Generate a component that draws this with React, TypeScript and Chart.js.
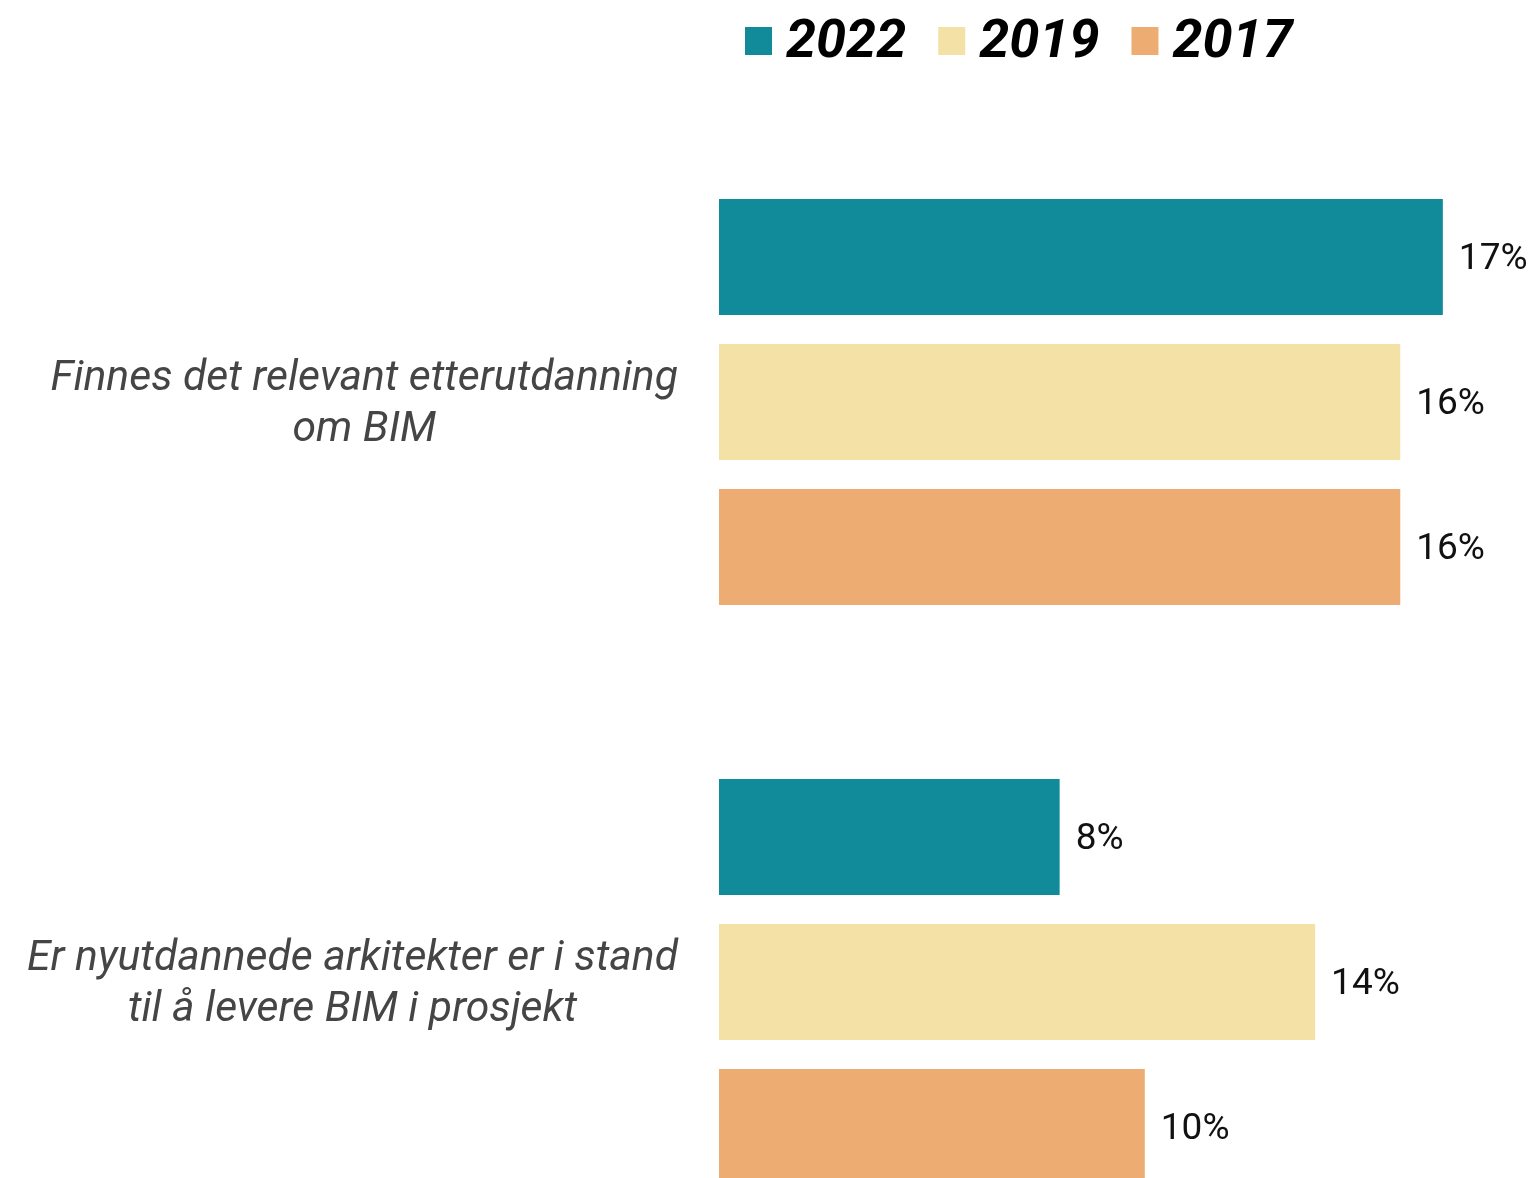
import React, { useEffect, useRef } from "react";
import { Chart, registerables } from "chart.js";

Chart.register(...registerables);

const categories: string[][] = [
  ["Finnes det relevant etterutdanning", "om BIM"],
  ["Er nyutdannede arkitekter er i stand", "til å levere BIM i prosjekt"],
];
const seriesLabels = ["2022", "2019", "2017"];
const values2022 = [17, 8];
const values2019 = [16, 14];
const values2017 = [16, 10];
const seriesColors = ["#118A99", "#F3E1A6", "#ECAC72"];
const xMax = 19;

const FONT = "Roboto, 'Noto Sans', sans-serif";

const legendPlugin = {
  id: "customLegend",
  afterDraw(chart: any) {
    const ctx = chart.ctx;
    ctx.save();
    ctx.font = `italic bold 54px ${FONT}`;
    ctx.textBaseline = "middle";
    ctx.textAlign = "left";
    let x = 745;
    const yc = 41;
    chart.data.datasets.forEach((ds: any) => {
      ctx.fillStyle = ds.backgroundColor;
      ctx.fillRect(x, yc - 14, 27, 28);
      ctx.fillStyle = "#000000";
      const tx = x + 27 + 14;
      ctx.fillText(ds.label, tx, yc + 2);
      x = tx + ctx.measureText(ds.label).width + 32;
    });
    ctx.restore();
  },
};

const categoryLabelPlugin = {
  id: "categoryLabels",
  afterDraw(chart: any) {
    const ctx = chart.ctx;
    const yScale = chart.scales.y;
    const area = chart.chartArea;
    ctx.save();
    ctx.font = `italic 42.7px ${FONT}`;
    ctx.fillStyle = "#454545";
    ctx.textAlign = "center";
    ctx.textBaseline = "middle";
    const lh = 51;
    (chart.data.labels as string[][]).forEach((lines, i) => {
      const y = yScale.getPixelForTick(i) + 3;
      const widest = Math.max(...lines.map((l) => ctx.measureText(l).width));
      const cx = area.left - 41 - widest / 2;
      lines.forEach((line, j) => {
        const ly = y + (j - (lines.length - 1) / 2) * lh;
        ctx.fillText(line, cx, ly);
      });
    });
    ctx.restore();
  },
};

const valueLabelPlugin = {
  id: "valueLabels",
  afterDatasetsDraw(chart: any) {
    const ctx = chart.ctx;
    ctx.save();
    ctx.font = `37px ${FONT}`;
    ctx.fillStyle = "#111111";
    ctx.textAlign = "left";
    ctx.textBaseline = "middle";
    chart.data.datasets.forEach((ds: any, di: number) => {
      const meta = chart.getDatasetMeta(di);
      meta.data.forEach((bar: any, i: number) => {
        ctx.fillText(`${ds.data[i]}%`, bar.x + 16, bar.y + 3);
      });
    });
    ctx.restore();
  },
};

export default function App() {
  const canvasRef = useRef<HTMLCanvasElement | null>(null);

  useEffect(() => {
    if (!canvasRef.current) return;
    const chart = new Chart(canvasRef.current, {
      type: "bar",
      data: {
        labels: categories as any,
        datasets: [
          { label: seriesLabels[0], data: values2022, backgroundColor: seriesColors[0] },
          { label: seriesLabels[1], data: values2019, backgroundColor: seriesColors[1] },
          { label: seriesLabels[2], data: values2017, backgroundColor: seriesColors[2] },
        ],
      },
      options: {
        indexAxis: "y",
        animation: false,
        responsive: true,
        maintainAspectRatio: false,
        layout: { padding: { left: 711, top: 112, right: 10, bottom: 18 } },
        datasets: { bar: { categoryPercentage: 0.75, barPercentage: 0.8 } },
        plugins: { legend: { display: false }, tooltip: { enabled: false } },
        scales: {
          x: { display: false, min: 0, max: xMax },
          y: {
            display: true,
            ticks: { display: false },
            grid: { display: false },
            border: { display: false },
          },
        },
      },
      plugins: [legendPlugin, categoryLabelPlugin, valueLabelPlugin],
    });
    return () => chart.destroy();
  }, []);

  return (
    <div
      style={{
        position: "fixed",
        left: 0,
        top: 0,
        width: 1538,
        height: 1178,
        overflow: "hidden",
        background: "#ffffff",
      }}
    >
      <div style={{ position: "relative", width: 1538, height: 1290 }}>
        <canvas ref={canvasRef} />
      </div>
    </div>
  );
}
